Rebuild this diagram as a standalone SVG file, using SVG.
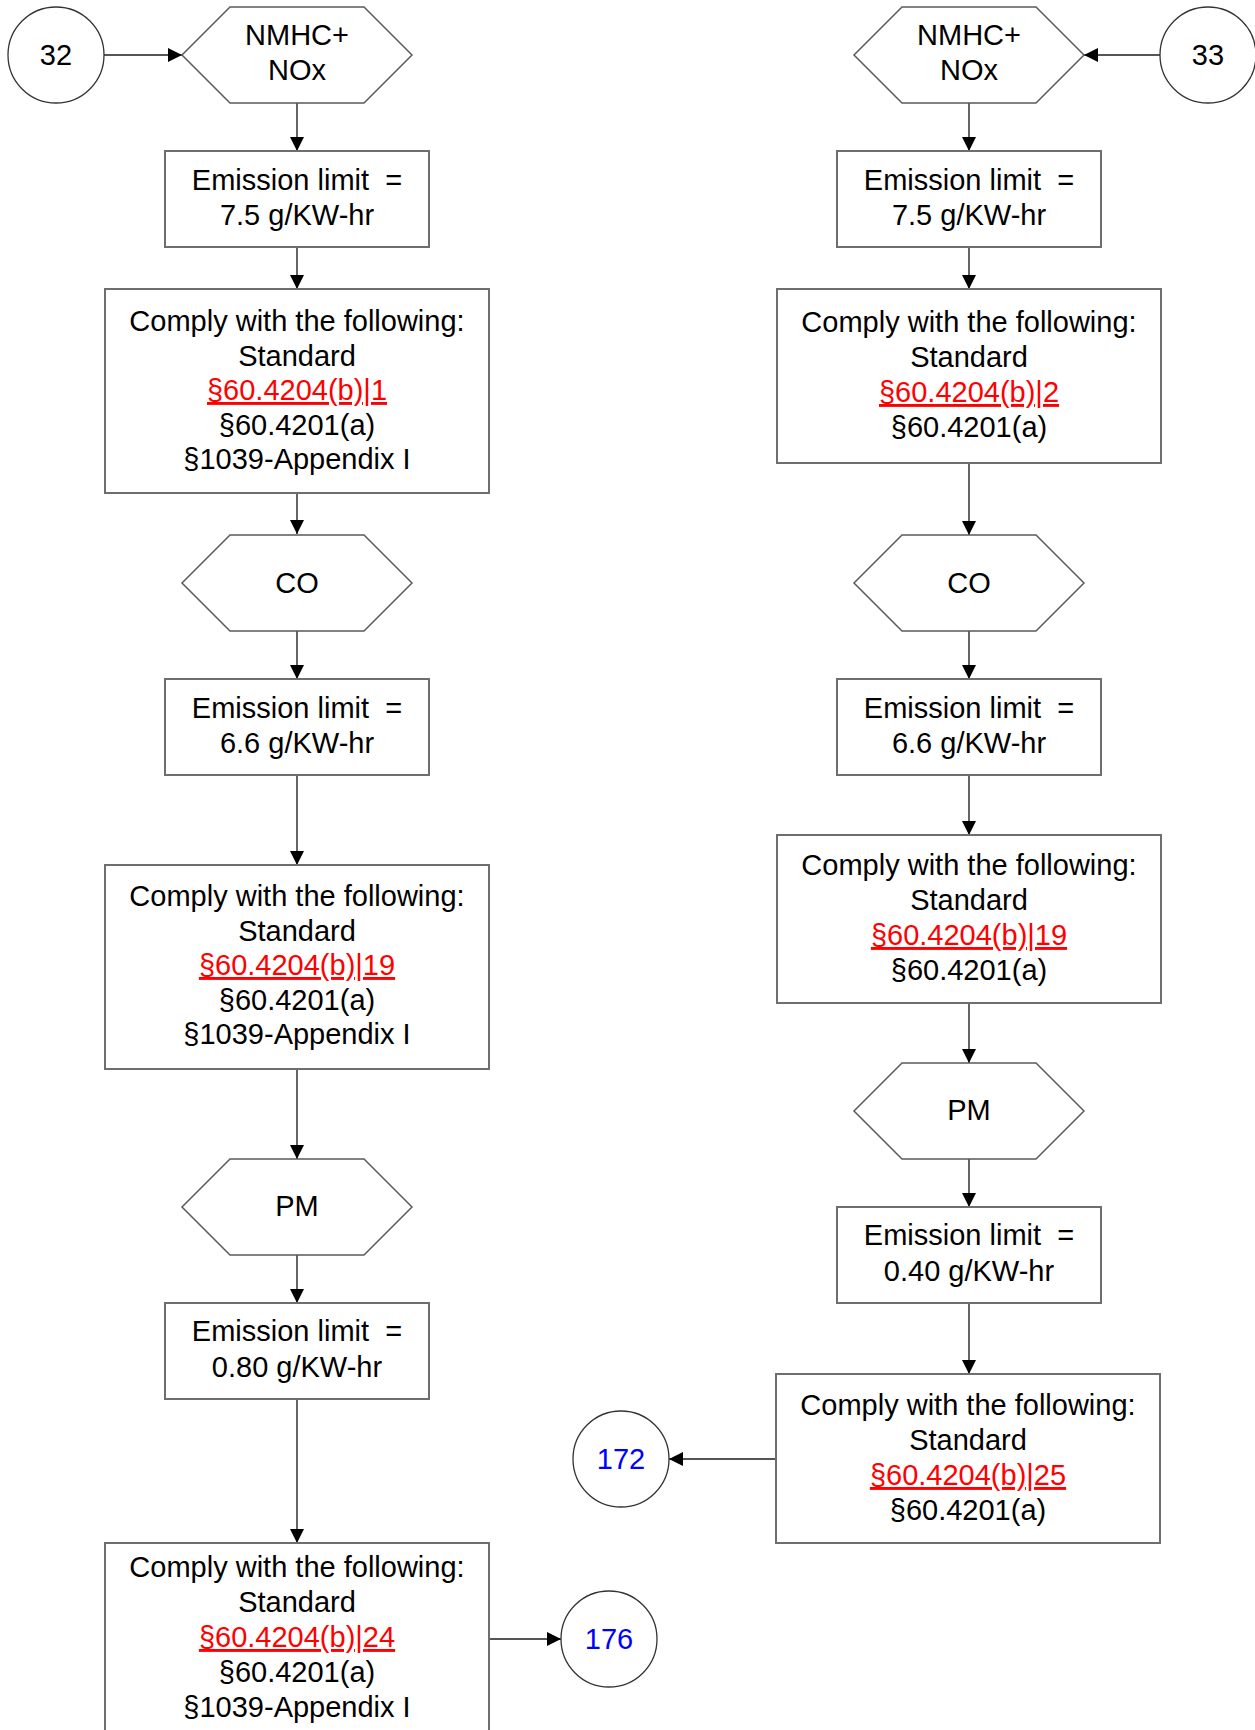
<svg xmlns="http://www.w3.org/2000/svg" width="1255" height="1730" viewBox="0 0 1255 1730">
<style>
  .box { fill: #ffffff; stroke: #6e6e6e; stroke-width: 2; }
  .hex { fill: #ffffff; stroke: #5a5a5a; stroke-width: 1.5; }
  .circ { fill: #ffffff; stroke: #333333; stroke-width: 1.3; }
  .t { font-family: "Liberation Sans", Arial, sans-serif; font-size: 29px; fill: #000000; text-anchor: middle; white-space: pre; }
  .red { fill: #ff0000; text-decoration: underline; }
  .blue { fill: #0000ff; }
  .conn { fill: none; stroke: #555555; stroke-width: 1.8; marker-end: url(#arrow); }
</style>
<defs>
  <marker id="arrow" markerUnits="userSpaceOnUse" markerWidth="14" markerHeight="14" refX="14" refY="7" orient="auto">
    <path d="M0,0 L14,7 L0,14 Z" fill="#000000"/>
  </marker>
</defs>
<rect width="1255" height="1730" fill="#ffffff"/>

<g id="connectors">
  <path class="conn" d="M104,55 H182"/>
  <path class="conn" d="M1160,55 H1084"/>
  <path class="conn" d="M297,103 V151"/>
  <path class="conn" d="M297,247 V289"/>
  <path class="conn" d="M297,493 V534"/>
  <path class="conn" d="M297,631 V679"/>
  <path class="conn" d="M297,775 V865"/>
  <path class="conn" d="M297,1069 V1159"/>
  <path class="conn" d="M297,1255 V1303"/>
  <path class="conn" d="M297,1399 V1543"/>
  <path class="conn" d="M969,103 V151"/>
  <path class="conn" d="M969,247 V289"/>
  <path class="conn" d="M969,463 V535"/>
  <path class="conn" d="M969,631 V679"/>
  <path class="conn" d="M969,775 V835"/>
  <path class="conn" d="M969,1003 V1063"/>
  <path class="conn" d="M969,1159 V1207"/>
  <path class="conn" d="M969,1303 V1374"/>
  <path class="conn" d="M776,1459 H669"/>
  <path class="conn" d="M489,1639 H561"/>
</g>

<g id="c32">
  <circle class="circ" cx="56" cy="55" r="48"/>
  <text class="t" x="56" y="65">32</text>
</g>
<g id="c33">
  <circle class="circ" cx="1208" cy="55" r="48"/>
  <text class="t" x="1208" y="65">33</text>
</g>
<g id="c172">
  <circle class="circ" cx="621" cy="1459" r="48"/>
  <text class="t blue" x="621" y="1469">172</text>
</g>
<g id="c176">
  <circle class="circ" cx="609" cy="1639" r="48"/>
  <text class="t blue" x="609" y="1649">176</text>
</g>

<!-- Left column -->
<g id="L_nmhc">
  <polygon class="hex" points="182,55 230,7 364,7 412,55 364,103 230,103"/>
  <text class="t" x="297" y="45">NMHC+</text>
  <text class="t" x="297" y="80">NOx</text>
</g>
<g id="L_em1">
  <rect class="box" x="165" y="151" width="264" height="96"/>
  <text class="t" x="297" y="190" xml:space="preserve">Emission limit  =</text>
  <text class="t" x="297" y="225">7.5 g/KW-hr</text>
</g>
<g id="L_comply1">
  <rect class="box" x="105" y="289" width="384" height="204"/>
  <text class="t" x="297" y="331">Comply with the following:</text>
  <text class="t" x="297" y="365.5">Standard</text>
  <text class="t red" x="297" y="400">§60.4204(b)|1</text>
  <text class="t" x="297" y="434.5">§60.4201(a)</text>
  <text class="t" x="297" y="469">§1039-Appendix I</text>
</g>
<g id="L_co">
  <polygon class="hex" points="182,583 230,535 364,535 412,583 364,631 230,631"/>
  <text class="t" x="297" y="593">CO</text>
</g>
<g id="L_em2">
  <rect class="box" x="165" y="679" width="264" height="96"/>
  <text class="t" x="297" y="718" xml:space="preserve">Emission limit  =</text>
  <text class="t" x="297" y="753">6.6 g/KW-hr</text>
</g>
<g id="L_comply2">
  <rect class="box" x="105" y="865" width="384" height="204"/>
  <text class="t" x="297" y="906">Comply with the following:</text>
  <text class="t" x="297" y="940.5">Standard</text>
  <text class="t red" x="297" y="975">§60.4204(b)|19</text>
  <text class="t" x="297" y="1009.5">§60.4201(a)</text>
  <text class="t" x="297" y="1044">§1039-Appendix I</text>
</g>
<g id="L_pm">
  <polygon class="hex" points="182,1207 230,1159 364,1159 412,1207 364,1255 230,1255"/>
  <text class="t" x="297" y="1216">PM</text>
</g>
<g id="L_em3">
  <rect class="box" x="165" y="1303" width="264" height="96"/>
  <text class="t" x="297" y="1341" xml:space="preserve">Emission limit  =</text>
  <text class="t" x="297" y="1377">0.80 g/KW-hr</text>
</g>
<g id="L_comply3">
  <rect class="box" x="105" y="1543" width="384" height="204"/>
  <text class="t" x="297" y="1577">Comply with the following:</text>
  <text class="t" x="297" y="1612">Standard</text>
  <text class="t red" x="297" y="1647">§60.4204(b)|24</text>
  <text class="t" x="297" y="1682">§60.4201(a)</text>
  <text class="t" x="297" y="1717">§1039-Appendix I</text>
</g>

<!-- Right column -->
<g id="R_nmhc">
  <polygon class="hex" points="854,55 902,7 1036,7 1084,55 1036,103 902,103"/>
  <text class="t" x="969" y="45">NMHC+</text>
  <text class="t" x="969" y="80">NOx</text>
</g>
<g id="R_em1">
  <rect class="box" x="837" y="151" width="264" height="96"/>
  <text class="t" x="969" y="190" xml:space="preserve">Emission limit  =</text>
  <text class="t" x="969" y="225">7.5 g/KW-hr</text>
</g>
<g id="R_comply1">
  <rect class="box" x="777" y="289" width="384" height="174"/>
  <text class="t" x="969" y="332">Comply with the following:</text>
  <text class="t" x="969" y="367">Standard</text>
  <text class="t red" x="969" y="402">§60.4204(b)|2</text>
  <text class="t" x="969" y="437">§60.4201(a)</text>
</g>
<g id="R_co">
  <polygon class="hex" points="854,583 902,535 1036,535 1084,583 1036,631 902,631"/>
  <text class="t" x="969" y="593">CO</text>
</g>
<g id="R_em2">
  <rect class="box" x="837" y="679" width="264" height="96"/>
  <text class="t" x="969" y="718" xml:space="preserve">Emission limit  =</text>
  <text class="t" x="969" y="753">6.6 g/KW-hr</text>
</g>
<g id="R_comply2">
  <rect class="box" x="777" y="835" width="384" height="168"/>
  <text class="t" x="969" y="875">Comply with the following:</text>
  <text class="t" x="969" y="910">Standard</text>
  <text class="t red" x="969" y="945">§60.4204(b)|19</text>
  <text class="t" x="969" y="980">§60.4201(a)</text>
</g>
<g id="R_pm">
  <polygon class="hex" points="854,1111 902,1063 1036,1063 1084,1111 1036,1159 902,1159"/>
  <text class="t" x="969" y="1120">PM</text>
</g>
<g id="R_em3">
  <rect class="box" x="837" y="1207" width="264" height="96"/>
  <text class="t" x="969" y="1245" xml:space="preserve">Emission limit  =</text>
  <text class="t" x="969" y="1281">0.40 g/KW-hr</text>
</g>
<g id="R_comply3">
  <rect class="box" x="776" y="1374" width="384" height="169"/>
  <text class="t" x="968" y="1415">Comply with the following:</text>
  <text class="t" x="968" y="1450">Standard</text>
  <text class="t red" x="968" y="1485">§60.4204(b)|25</text>
  <text class="t" x="968" y="1520">§60.4201(a)</text>
</g>
</svg>
